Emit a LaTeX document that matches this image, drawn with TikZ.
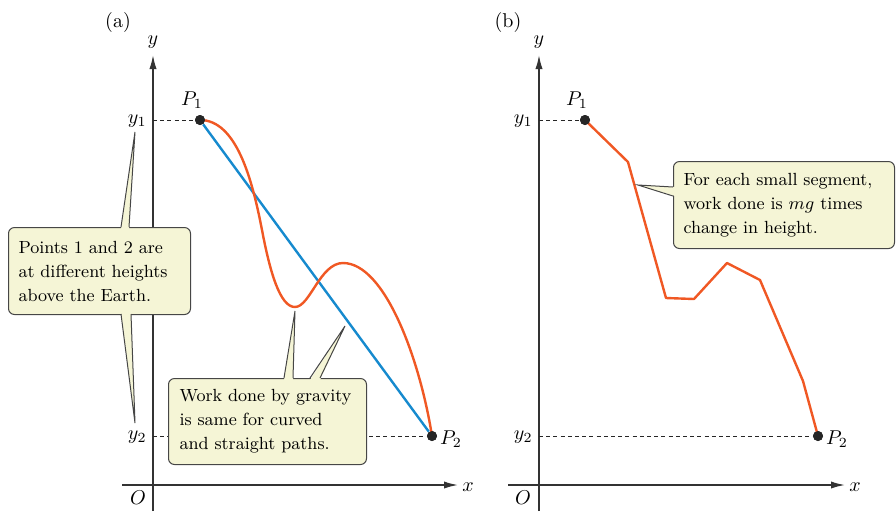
\documentclass[tikz,border=0pt]{standalone}
\usepackage{amsmath}
\usepackage{xcolor}
\usepackage{tikz}
\usetikzlibrary{arrows.meta}
\definecolor{pathorange}{RGB}{240, 88, 36}
\definecolor{chordblue}{RGB}{22, 138, 206}
\definecolor{notefill}{RGB}{245, 245, 214}
\definecolor{noteline}{RGB}{70, 70, 70}

\begin{document}
\begin{tikzpicture}[x=0.5pt, y=-0.5pt, >={Latex[length=7pt,width=3.6pt]},
    every node/.style={font=\fontsize{8.8}{12}\selectfont},
    lab/.style={font=\fontsize{10}{12}\selectfont},
    axisline/.style={->, line width=0.75pt, black!80},
    heightline/.style={dash pattern=on 2pt off 1.6pt, line width=0.5pt, black!85},
    route/.style={line width=1.2pt, pathorange, line join=round},
    chord/.style={line width=1.2pt, chordblue},
    dot/.style={circle, fill=black!85, inner sep=0pt, minimum size=5pt},
    note/.style={draw=noteline, fill=notefill, line width=0.5pt, rounded corners=3pt,
                 anchor=north west, align=left, inner xsep=5pt, minimum height=43.5pt},
    tailline/.style={draw=noteline, line width=0.5pt}]
    \useasboundingbox (0,0) rectangle (896,511);

    % ---- panel (a) ----
    \coordinate (ya0) at (153,511);
    \coordinate (ya) at (153,55);
    \coordinate (xa0) at (122,485);
    \coordinate (xa) at (458,485);
    \draw[axisline] (ya0) -- (ya);
    \draw[axisline] (xa0) -- (xa);
    \node[lab] (taga) at (118,22) {(a)};
    \node[lab] (ylaba) at (153,42) {$y$};
    \node[lab] (xlaba) at (468,487) {$x$};
    \node[lab] (Oa) at (138,498) {$O$};

    \node[dot] (P1a) at (200,120) {};
    \node[dot] (P2a) at (432,436) {};
    \node[lab] (P1alab) at (192,100) {$P_1$};
    \node[lab] (P2alab) at (451,439) {$P_2$};
    \coordinate (h1a) at (153,120);
    \coordinate (h2a) at (153,436);
    \node[lab, anchor=east, inner sep=1pt] (y1a) at (149,121) {$y_1$};
    \node[lab, anchor=east, inner sep=1pt] (y2a) at (149,437) {$y_2$};
    \draw[heightline] (h1a) -- (P1a);
    \draw[heightline] (h2a) -- (P2a);

    \draw[chord] (P1a) -- (P2a);
    \draw[route] (200,120) .. controls (236,120) and (252,178) .. (262,230)
        .. controls (270,272) and (280,307) .. (295,307)
        .. controls (310,307) and (320,263) .. (343,263)
        .. controls (385,263) and (420,360) .. (P2a.center);
    \fill[black!85] (P1a) circle (2.5pt);
    \fill[black!85] (P2a) circle (2.5pt);

    % callouts
    \node[note, text width=81pt] (noteA) at (8,227)
        {Points 1 and 2 are\\at different heights\\above the Earth.};
    \node[note, text width=88pt, inner xsep=5.5pt, minimum height=43pt] (noteB) at (168,378)
        {Work done by gravity\\is same for curved\\and straight paths.};
    \coordinate (tipA1) at (135,132);
    \coordinate (tipA2) at (135,423);
    \coordinate (tipB1) at (295,311);
    \coordinate (tipB2) at (345,326);
    \fill[notefill] (121,229) -- (tipA1) -- (129,229) -- cycle;
    \draw[tailline] (121,227) -- (tipA1) -- (129,227);
    \fill[notefill] (121,312) -- (tipA2) -- (131,312) -- cycle;
    \draw[tailline] (121,314) -- (tipA2) -- (131,314);
    \fill[notefill] (284,380) -- (tipB1) -- (293,380) -- cycle;
    \draw[tailline] (284,378) -- (tipB1) -- (293,378);
    \fill[notefill] (310,380) -- (tipB2) -- (320,380) -- cycle;
    \draw[tailline] (310,378) -- (tipB2) -- (320,378);

    % ---- panel (b) ----
    \coordinate (yb0) at (539,511);
    \coordinate (yb) at (539,55);
    \coordinate (xb0) at (508,485);
    \coordinate (xb) at (845,485);
    \draw[axisline] (yb0) -- (yb);
    \draw[axisline] (xb0) -- (xb);
    \node[lab] (tagb) at (508,22) {(b)};
    \node[lab] (ylabb) at (539,42) {$y$};
    \node[lab] (xlabb) at (855,487) {$x$};
    \node[lab] (Ob) at (523,498) {$O$};

    \node[dot] (P1b) at (585,120) {};
    \node[dot] (P2b) at (818,436) {};
    \node[lab] (P1blab) at (577,100) {$P_1$};
    \node[lab] (P2blab) at (837,439) {$P_2$};
    \coordinate (h1b) at (539,120);
    \coordinate (h2b) at (539,436);
    \node[lab, anchor=east, inner sep=1pt] (y1b) at (535,121) {$y_1$};
    \node[lab, anchor=east, inner sep=1pt] (y2b) at (535,437) {$y_2$};
    \draw[heightline] (h1b) -- (P1b);
    \draw[heightline] (h2b) -- (P2b);

    \draw[route] (P1b.center) -- (628,162) -- (666,298) -- (694,299) -- (727,263)
        -- (760,280) -- (803,381) -- (P2b.center);
    \fill[black!85] (P1b) circle (2.5pt);
    \fill[black!85] (P2b) circle (2.5pt);

    \node[note, text width=100.5pt] (noteC) at (673,161)
        {For each small segment,\\work done is $mg$ times\\change in height.};
    \coordinate (tipC) at (638,185);
    \fill[notefill] (675,187) -- (tipC) -- (675,196) -- cycle;
    \draw[tailline] (673,187) -- (tipC) -- (673,196);
\end{tikzpicture}
\end{document}
